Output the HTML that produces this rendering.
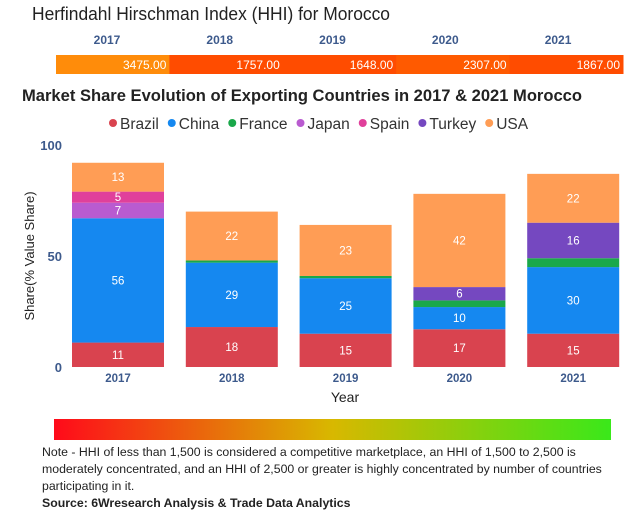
<!DOCTYPE html>
<html><head><meta charset="utf-8"><style>
body{margin:0;width:630px;height:523px;background:#fff;font-family:"Liberation Sans",sans-serif;overflow:hidden;position:relative}
.note{position:absolute;left:42px;top:444px;width:585px;font-size:12.3px;line-height:17px;color:#222}
</style></head><body>
<svg id="chart" width="630" height="523" style="position:absolute;left:0;top:0">
<text x="32" y="20" font-size="18" fill="#222" textLength="358" lengthAdjust="spacingAndGlyphs">Herfindahl Hirschman Index (HHI) for Morocco</text>
<g id="hhi"></g>
<text x="22" y="101" font-size="16.5" font-weight="bold" fill="#222" textLength="560" lengthAdjust="spacingAndGlyphs">Market Share Evolution of Exporting Countries in 2017 &amp; 2021 Morocco</text>
<g id="legend"></g>
<g id="bars"></g>
<text transform="translate(34,256) rotate(-90)" text-anchor="middle" font-size="13" fill="#222">Share(% Value Share)</text>
<text x="345" y="402" text-anchor="middle" font-size="14" fill="#222">Year</text>
<defs><linearGradient id="gr" x1="0" x2="1"><stop offset="0" stop-color="#ff0a1a"/><stop offset="0.5" stop-color="#d8b800"/><stop offset="1" stop-color="#3ae81a"/></linearGradient></defs>
<rect x="54" y="419" width="557" height="21" fill="url(#gr)"/>
</svg>
<div class="note">Note - HHI of less than 1,500 is considered a competitive marketplace, an HHI of 1,500 to 2,500 is moderately concentrated, and an HHI of 2,500 or greater is highly concentrated by number of countries participating in it.<br><b>Source: 6Wresearch Analysis &amp; Trade Data Analytics</b></div>
<script>
const years=["2017","2018","2019","2020","2021"];
const hhiValues=[3475,1757,1648,2307,1867];
const countries=["Brazil","China","France","Japan","Spain","Turkey","USA"];
const colors=["#d9434f","#1588f0","#1aa84a","#b95bd0","#e0409b","#7548c0","#ff9d55"];
const brazil=[11,18,15,17,15];
const china=[56,29,25,10,30];
const france=[0,1,1,3,4];
const japan=[7,0,0,0,0];
const spain=[5,0,0,0,0];
const turkey=[0,0,0,6,16];
const usa=[13,22,23,42,22];
const series=[brazil,china,france,japan,spain,turkey,usa];
const yTicks=[0,50,100];
const NS="http://www.w3.org/2000/svg";
function mk(t,a,p){const e=document.createElementNS(NS,t);for(const k in a)e.setAttribute(k,a[k]);p.appendChild(e);return e;}
const hhi=document.getElementById('hhi');
const hx0=56,hx1=623,hw=(hx1-hx0)/years.length;
years.forEach((y,i)=>{
  const x=hx0+i*hw;
  const r=mk('rect',{x:x,y:55,width:hw+0.5,height:19,fill:hhiValues[i]>=2500?'#ff8c0a':(hhiValues[i]>=2000?'#ff5a00':'#ff4c00')},hhi);
  
  
  const t=mk('text',{x:x+hw-3,y:69,'text-anchor':'end','font-size':12,fill:'#fff'},hhi);t.textContent=hhiValues[i].toFixed(2);
  
  
  const l=mk('text',{x:107+i*(hw+0.5)*0.99,y:44,'text-anchor':'middle','font-size':12,'font-weight':'bold',fill:'#3d5a8c'},hhi);l.textContent=y;
  
  
});
const lg=document.getElementById('legend');
let lx=113;
countries.forEach((c,i)=>{
  const d=mk('circle',{cx:lx,cy:123,r:4,fill:colors[i]},lg);
  
  
  const t=mk('text',{x:lx+7,y:129,'font-size':15.5,fill:'#333'},lg);t.textContent=c;
  
  
  lx+=7+t.getComputedTextLength()+13;
});
const g=document.getElementById('bars');
const y0=367,py=2.22;
const yS=v=>y0-v*py;
const bx0=72,step=113.8,bw=92;
yTicks.forEach(v=>{const t=mk('text',{x:62,y:yS(v)+5,'text-anchor':'end','font-size':13,'font-weight':'bold',fill:'#3d5a8c'},g);t.textContent=v;
  
  });
years.forEach((yr,i)=>{
  const x=bx0+i*step;let cum=0;
  series.forEach((s,k)=>{
    const v=s[i];if(!v)return;
    const r=mk('rect',{x:x,y:yS(cum+v),width:bw,height:v*py,fill:colors[k]},g);
    
    
    if(v>=5){const t=mk('text',{x:x+bw/2,y:yS(cum+v/2)+4,'text-anchor':'middle','font-size':11.5,fill:'#fff'},g);t.textContent=v;
      
      }
    cum+=v;
  });
  const t=mk('text',{x:x+bw/2,y:382,'text-anchor':'middle','font-size':11.5,'font-weight':'bold',fill:'#3d5a8c'},g);t.textContent=yr;
  
  
});
</script>
</body></html>
